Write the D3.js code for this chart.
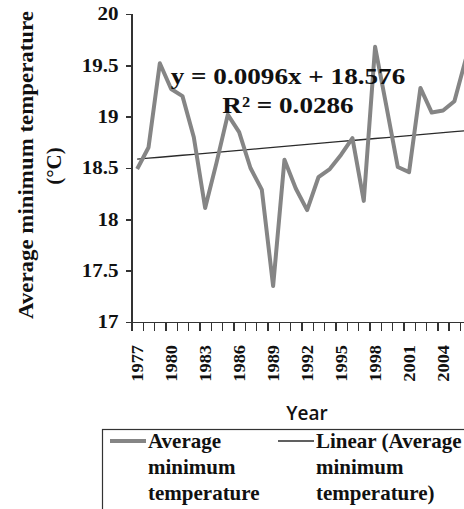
<!DOCTYPE html>
<meta charset="utf-8">
<head>
<style>
  body {
    margin: 0;
    overflow: hidden;
    background-color: #ffffff;
  }
  .axis path,
  .axis line {
    fill: none;
    stroke: #333;
    stroke-width: 1.5px;
    shape-rendering: crispEdges;
  }
  .axis text {
    font-family: "Liberation Serif", serif;
    font-weight: bold;
    fill: #111;
  }
  .serif {
    font-family: "Liberation Serif", serif;
    font-weight: bold;
    fill: #111;
  }
</style>
</head>
<body>
<svg id="chart" width="540" height="509"></svg>
<script src="https://d3js.org/d3.v7.min.js"></script>
<script>

// data
var years = [1977, 1978, 1979, 1980, 1981, 1982, 1983, 1984, 1985, 1986,
             1987, 1988, 1989, 1990, 1991, 1992, 1993, 1994, 1995, 1996,
             1997, 1998, 1999, 2000, 2001, 2002, 2003, 2004, 2005, 2006];
var avgMinTemp = [18.49, 18.70, 19.52, 19.27, 19.20, 18.80, 18.11, 18.55, 19.02, 18.85,
                  18.50, 18.29, 17.35, 18.58, 18.30, 18.09, 18.41, 18.49, 18.63, 18.79,
                  18.18, 19.68, 19.10, 18.51, 18.46, 19.28, 19.04, 19.06, 19.15, 19.56];
var yTicks = [17, 17.5, 18, 18.5, 19, 19.5, 20];
var labelYears = [1977, 1980, 1983, 1986, 1989, 1992, 1995, 1998, 2001, 2004];
var trendSlope = 0.0096, trendIntercept = 18.576, rSquared = 0.0286;

var svg = d3.select("#chart");

var plotLeft = 131.5, plotTop = 14, plotBottom = 322, step = 11.33;
var plotRight = plotLeft + step * years.length;

var x = d3.scaleBand().domain(years).range([plotLeft, plotRight]).padding(0);
var xEdge = d3.scaleLinear().domain([0, years.length]).range([plotLeft, plotRight]);
var y = d3.scaleLinear().domain([17, 20]).range([plotBottom, plotTop]);

// stretch text a bit along its baseline, the original font runs wider
function widen(sel, k) {
  sel.each(function() {
    var w = this.getComputedTextLength();
    d3.select(this).attr("textLength", w * k).attr("lengthAdjust", "spacingAndGlyphs");
  });
}

// y axis
var gy = svg.append("g")
    .attr("class", "axis")
    .attr("transform", "translate(" + plotLeft + ",0)")
    .call(d3.axisLeft(y).tickValues(yTicks).tickSize(6).tickPadding(7).tickFormat(function(d) { return String(d); }));
gy.selectAll("text").style("font-size", "18px");
widen(gy.selectAll("text"), 1.17);

// x axis: ticks at category edges
svg.append("g")
    .attr("class", "axis")
    .attr("transform", "translate(0," + plotBottom + ")")
    .call(d3.axisBottom(xEdge).tickValues(d3.range(0, years.length + 1)).tickSize(9).tickFormat(""));

// x labels, rotated, every third year
var gxl = svg.append("g")
    .attr("class", "axis")
    .attr("transform", "translate(0," + plotBottom + ")")
    .call(d3.axisBottom(x).tickValues(labelYears).tickSize(0));
gxl.select(".domain").remove();
gxl.selectAll("text")
    .style("font-size", "17px")
    .attr("text-anchor", "end")
    .attr("transform", "rotate(-90)")
    .attr("x", -23)
    .attr("y", 0)
    .attr("dy", "0.35em");
widen(gxl.selectAll("text"), 1.08);

// trend line from the stated equation
var trend = d3.line()
    .x(function(d) { return x(d) + x.bandwidth() / 2; })
    .y(function(d, i) { return y(trendSlope * (i + 1) + trendIntercept); });

svg.append("path")
    .datum(years)
    .attr("fill", "none")
    .attr("stroke", "#2b2b2b")
    .attr("stroke-width", 1.3)
    .attr("d", trend);

// series
var line = d3.line()
    .x(function(d, i) { return x(years[i]) + x.bandwidth() / 2; })
    .y(function(d) { return y(d); });

svg.append("path")
    .datum(avgMinTemp)
    .attr("fill", "none")
    .attr("stroke", "#858585")
    .attr("stroke-width", 4)
    .attr("stroke-linejoin", "round")
    .attr("d", line);

// equation
var eq = svg.append("g").attr("class", "serif").style("font-size", "23px").attr("text-anchor", "middle");
eq.append("text").attr("x", 288).attr("y", 84).text("y = " + trendSlope + "x + " + trendIntercept);
eq.append("text").attr("x", 288).attr("y", 113).text("R\u00b2 = " + rSquared);
widen(eq.selectAll("text"), 1.18);

// y title
var yt = svg.append("g").attr("class", "serif").style("font-size", "21px").attr("text-anchor", "middle");
yt.append("text").attr("transform", "translate(33,165) rotate(-90)").text("Average minimum temperature");
yt.append("text").attr("transform", "translate(61,166) rotate(-90)").text("(\u00b0C)");
yt.select("text").attr("textLength", 308).attr("lengthAdjust", "spacingAndGlyphs");

// x title
svg.append("text")
    .attr("x", 307)
    .attr("y", 420)
    .attr("text-anchor", "middle")
    .style("font-family", "'Open Sans', sans-serif")
    .style("font-weight", 600)
    .style("font-size", "19px")
    .attr("fill", "#111")
    .text("Year");

// legend
svg.append("rect")
    .attr("x", 102.5).attr("y", 429.5)
    .attr("width", 500).attr("height", 120)
    .attr("fill", "none").attr("stroke", "#333").attr("stroke-width", 1.2);

var legendItems = [
  {lines: ["Average", "minimum", "temperature"], x: 110, color: "#858585", width: 4},
  {lines: ["Linear (Average", "minimum", "temperature)"], x: 278, color: "#2b2b2b", width: 1.3}
];

var lg = svg.selectAll(".legend")
    .data(legendItems)
    .enter().append("g")
    .attr("class", "legend");

lg.append("line")
    .attr("x1", function(d) { return d.x; })
    .attr("x2", function(d) { return d.x + 36; })
    .attr("y1", 441).attr("y2", 441)
    .attr("stroke", function(d) { return d.color; })
    .attr("stroke-width", function(d) { return d.width; });

lg.each(function(d) {
  var t = d3.select(this).append("text")
      .attr("class", "serif")
      .style("font-size", "21px");
  d.lines.forEach(function(s, i) {
    t.append("tspan").attr("x", d.x + 38).attr("y", 448 + i * 26).text(s);
  });
});

</script>
</body>
